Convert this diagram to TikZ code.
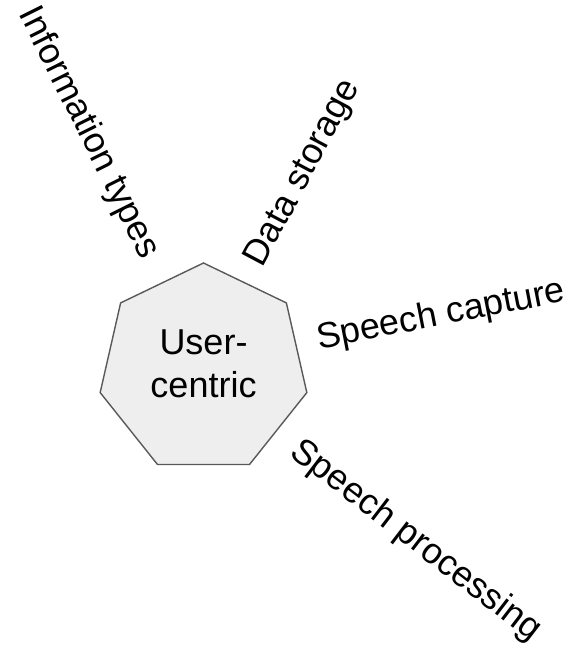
\documentclass[tikz,border=0pt]{standalone}
\usepackage{fontspec}
\setmainfont{Liberation Sans}
\usepackage{xcolor}
\usetikzlibrary{shapes.geometric}

\definecolor{hubfill}{HTML}{EEEEEE}
\definecolor{hubline}{HTML}{595959}

\begin{document}
\begin{tikzpicture}[x=1pt,y=1pt,
  topic/.style={inner sep=0pt, font=\fontsize{36}{43}\selectfont},
  hub/.style={regular polygon, regular polygon sides=7, minimum size=212pt,
    inner sep=0pt, fill=hubfill, draw=hubline, line width=1.4pt}]

\useasboundingbox (0,0) rectangle (579,652);

% Heptagono central
\node[hub] (uc) at (203.5,283) {};
\node[topic, align=center] (uctext) at (203.5,288.3) {User-\\centric};

% Topicos em volta
\node[topic, rotate=-63.5] (info) at (88.5,519) {Information types};
\node[topic, rotate=62] (data) at (303.5,478.5) {Data storage};
\node[topic, rotate=11] (capture) at (441,336) {Speech capture};
\node[topic, rotate=-37.5] (proc) at (415.5,111) {Speech processing};

\end{tikzpicture}
\end{document}
